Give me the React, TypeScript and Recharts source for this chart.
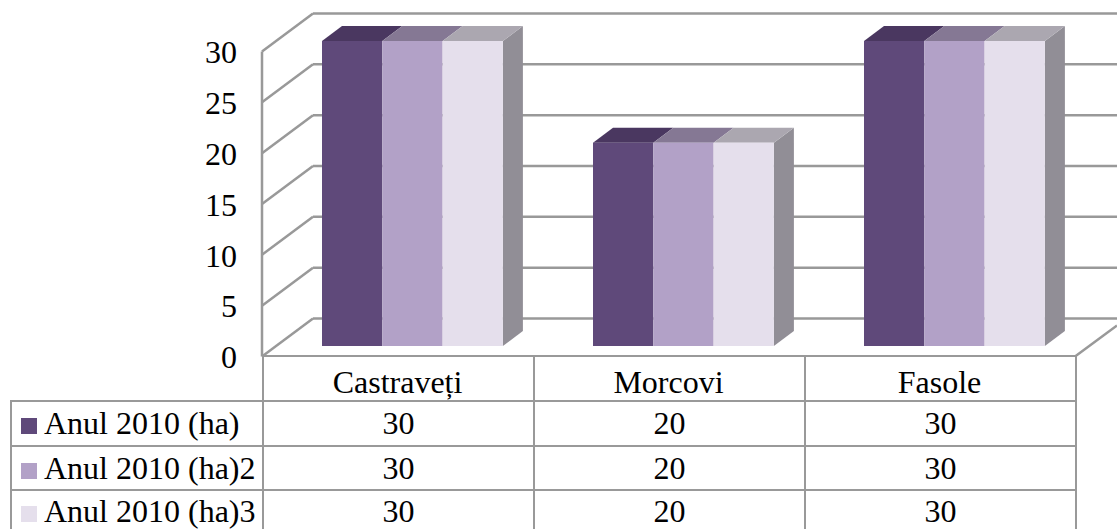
import React from 'react';
import { BarChart, Bar, XAxis, YAxis, CartesianGrid } from 'recharts';

const categories = ['Castraveți', 'Morcovi', 'Fasole'];
const serie1 = [30, 20, 30];
const serie2 = [30, 20, 30];
const serie3 = [30, 20, 30];
const yTicks = [0, 5, 10, 15, 20, 25, 30];

const seriesNames = ['Anul 2010 (ha)', 'Anul 2010 (ha)2', 'Anul 2010 (ha)3'];
const seriesValues = [serie1, serie2, serie3];
const frontColors = ['#5F497A', '#B2A1C7', '#E5DFEC'];
const topColors = ['#4A3760', '#857894', '#ABA7B0'];
const SIDE_COLOR = '#918E96';
const rowHeights = [44.5, 44, 43];

const data = categories.map((name, i) => ({ name, a: serie1[i], b: serie2[i], c: serie3[i] }));

const FONT = '"Liberation Serif", "Times New Roman", serif';
const FONT_SIZE = 32;
const GRID = '#999999';

// the bars stand a little in front of the back wall, so the plot area is the bar plane
const W = 1117;
const H = 529;
const PLANE_DX = 15;
const PLANE_DY = 10.5;
const WALL_DX = 51;
const WALL_DY = 38;
const BAR_DX = 20;
const BAR_DY = 15;

const bar3d = (series: number, last: boolean) => (props: any) => {
  const { x, y, width, height } = props;
  return (
    <g>
      {last && (
        <polygon
          points={`${x + width},${y} ${x + width + BAR_DX},${y - BAR_DY} ${x + width + BAR_DX},${y + height - BAR_DY} ${x + width},${y + height}`}
          fill={SIDE_COLOR}
        />
      )}
      <polygon
        points={`${x},${y} ${x + BAR_DX},${y - BAR_DY} ${x + width + BAR_DX},${y - BAR_DY} ${x + width},${y}`}
        fill={topColors[series]}
      />
      <rect x={x} y={y} width={width} height={height} fill={frontColors[series]} />
    </g>
  );
};

// each tick gets its slanted piece on the side wall and its line on the back wall
const wallLine = (props: any) => {
  const { x1, y1, index } = props;
  const fx = x1 - PLANE_DX;
  const fy = y1 + PLANE_DY;
  const bx = fx + WALL_DX;
  const by = fy - WALL_DY;
  return (
    <g key={`wall-${index}`} stroke={GRID} strokeWidth={2.5} fill="none">
      <line x1={fx} y1={fy} x2={bx} y2={by} />
      <line x1={bx} y1={by} x2={W} y2={by} />
    </g>
  );
};

const YTick = (props: any) => {
  const { y, payload } = props;
  return (
    <text x={237} y={y + PLANE_DY + 11.75} textAnchor="end" fontFamily={FONT} fontSize={FONT_SIZE} fill="#000">
      {payload.value}
    </text>
  );
};

const XTick = (props: any) => {
  const { x, payload } = props;
  return (
    <text x={x - PLANE_DX} y={393} textAnchor="middle" fontFamily={FONT} fontSize={FONT_SIZE} fill="#000">
      {payload.value}
    </text>
  );
};

const cellStyle: React.CSSProperties = {
  border: `2.5px solid ${GRID}`,
  padding: 0,
  textAlign: 'center',
  color: '#000',
  lineHeight: '30px',
  boxSizing: 'border-box',
};

function DataTable() {
  return (
    <table
      style={{
        position: 'absolute',
        left: 10,
        top: 355,
        borderCollapse: 'collapse',
        tableLayout: 'fixed',
        width: 1065,
        fontFamily: FONT,
        fontSize: FONT_SIZE,
      }}
    >
      <colgroup>
        <col style={{ width: 252 }} />
        <col style={{ width: 271 }} />
        <col style={{ width: 271 }} />
        <col style={{ width: 271 }} />
      </colgroup>
      <tbody>
        <tr style={{ height: 45 }}>
          <td style={{ ...cellStyle, borderTop: 'none', borderLeft: 'none' }} />
          {categories.map((c) => (
            <td key={c} style={cellStyle} />
          ))}
        </tr>
        {seriesNames.map((name, r) => (
          <tr key={name} style={{ height: rowHeights[r] }}>
            <td style={{ ...cellStyle, textAlign: 'left', whiteSpace: 'nowrap', paddingLeft: 9 }}>
              <span
                style={{
                  display: 'inline-block',
                  width: 16,
                  height: 16,
                  marginRight: 7,
                  background: frontColors[r],
                }}
              />
              {name}
            </td>
            {seriesValues[r].map((v, i) => (
              <td key={i} style={cellStyle}>
                {v}
              </td>
            ))}
          </tr>
        ))}
      </tbody>
    </table>
  );
}

export default function App() {
  const plotLeft = 277;
  const plotTop = 41;
  const plotBottom = 346;
  const wallLeft = plotLeft - PLANE_DX;
  const wallBottom = plotBottom + PLANE_DY;
  return (
    <div style={{ position: 'absolute', left: 0, top: 0, width: W, height: H, overflow: 'hidden', background: '#fff' }}>
      <DataTable />
      <div style={{ position: 'absolute', left: 0, top: 0 }}>
        <BarChart
          width={W}
          height={H}
          data={data}
          barSize={60.3}
          barGap={0}
          margin={{ top: plotTop, right: W - 1090, bottom: 0, left: 0 }}
        >
          <CartesianGrid horizontal={wallLine} vertical={false} />
          <XAxis
            dataKey="name"
            height={H - plotBottom}
            axisLine={false}
            tickLine={false}
            tick={<XTick />}
            interval={0}
          />
          <YAxis
            domain={[0, 30]}
            ticks={yTicks}
            width={plotLeft}
            axisLine={false}
            tickLine={false}
            tick={<YTick />}
            interval={0}
          />
          <Bar dataKey="a" name={seriesNames[0]} isAnimationActive={false} shape={bar3d(0, false)} />
          <Bar dataKey="b" name={seriesNames[1]} isAnimationActive={false} shape={bar3d(1, false)} />
          <Bar dataKey="c" name={seriesNames[2]} isAnimationActive={false} shape={bar3d(2, true)} />
        </BarChart>
      </div>
      {/* left wall edge and the floor's right edge, which stick out of the table */}
      <svg width={W} height={H} style={{ position: 'absolute', left: 0, top: 0, pointerEvents: 'none' }}>
        <line x1={wallLeft} y1={plotTop + PLANE_DY} x2={wallLeft} y2={wallBottom} stroke={GRID} strokeWidth={2.5} />
        <line x1={1075} y1={wallBottom} x2={W} y2={wallBottom - 31} stroke={GRID} strokeWidth={2.5} />
      </svg>
    </div>
  );
}
